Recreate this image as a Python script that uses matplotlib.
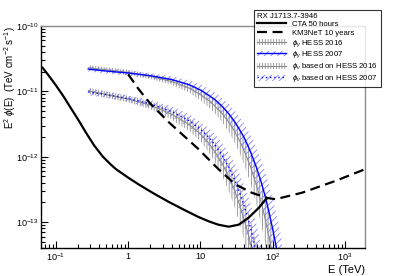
import matplotlib
matplotlib.use("Agg")
import matplotlib.pyplot as plt
import numpy as np
from matplotlib.lines import Line2D
from matplotlib.patches import Patch
from matplotlib.ticker import FixedLocator, FixedFormatter, NullFormatter, LogLocator

plt.rcParams["font.family"] = ["Liberation Sans", "DejaVu Sans"]
plt.rcParams["mathtext.fontset"] = "custom"
plt.rcParams["mathtext.rm"] = "Liberation Sans"
plt.rcParams["mathtext.it"] = "Liberation Sans:italic"
plt.rcParams["mathtext.bf"] = "Liberation Sans:bold"
plt.rcParams["hatch.linewidth"] = 0.6

# CTA 50 hours sensitivity: log10 E (TeV), log10 E^2 phi (TeV cm-2 s-1)
cta_loge = [-1.185, -1.1, -1.0, -0.9, -0.815, -0.7, -0.58, -0.47, -0.35, -0.25, -0.17, 0.0,
            0.14, 0.35, 0.56, 0.77, 0.97, 1.12, 1.25, 1.39, 1.53, 1.67, 1.81, 1.92]
cta_logf = [-10.64, -10.76, -10.91, -11.07, -11.22, -11.42, -11.64, -11.83, -12.00, -12.11,
            -12.19, -12.32, -12.42, -12.56, -12.69, -12.81, -12.92, -12.99, -13.04, -13.07,
            -13.04, -12.93, -12.78, -12.63]

# KM3NeT 10 years
km3_loge = [0.0, 0.14, 0.30, 0.56, 0.97, 1.25, 1.48, 1.71, 1.92, 2.04, 2.41, 2.87, 3.26]
km3_logf = [-10.74, -10.96, -11.18, -11.47, -11.88, -12.19, -12.42, -12.55, -12.63, -12.65,
            -12.55, -12.37, -12.20]

# HESS bands, common energy grid (TeV)
band_e = [0.28, 0.5, 1, 2, 4, 7, 10, 13, 16, 20, 25, 30, 35, 40, 45, 50, 60, 70, 80, 90,
          100, 110, 120, 135]

# log10 E^2 phi, centre lines
gam16_c = [-10.64, -10.67, -10.71, -10.77, -10.85, -10.95, -11.05, -11.14, -11.23, -11.34,
           -11.48, -11.62, -11.76, -11.90, -12.04, -12.17, -12.44, -12.71, -12.98, -13.25,
           -13.52, -13.78, -14.05, -14.45]
gam07_c = [-10.66, -10.69, -10.72, -10.76, -10.82, -10.90, -10.98, -11.06, -11.13, -11.23,
           -11.35, -11.47, -11.59, -11.70, -11.82, -11.94, -12.17, -12.40, -12.63, -12.87,
           -13.10, -13.33, -13.56, -13.90]
nu16_c = [-10.99, -11.05, -11.12, -11.21, -11.35, -11.51, -11.65, -11.79, -11.93, -12.10,
          -12.32, -12.53, -12.74, -12.95, -13.15, -13.36, -13.77, -14.2, -14.6, -15.0,
          -15.4, -15.8, -16.2, -16.8]
nu07_c = [-11.01, -11.05, -11.11, -11.19, -11.31, -11.45, -11.58, -11.70, -11.82, -11.98,
          -12.17, -12.36, -12.55, -12.74, -12.92, -13.11, -13.48, -13.85, -14.2, -14.6,
          -15.0, -15.4, -15.8, -16.4]

# half widths of the bands (dex)
err_gam = [0.04, 0.04, 0.04, 0.04, 0.05, 0.07, 0.09, 0.10, 0.11, 0.13, 0.15, 0.17, 0.19,
           0.21, 0.23, 0.26, 0.30, 0.34, 0.38, 0.42, 0.46, 0.50, 0.55, 0.62]
err_nu = [0.05, 0.05, 0.05, 0.06, 0.08, 0.10, 0.11, 0.14, 0.16, 0.19, 0.22, 0.25, 0.28,
          0.31, 0.34, 0.37, 0.44, 0.50, 0.56, 0.62, 0.68, 0.74, 0.80, 0.90]

x_ticks = [0.1, 1, 10, 100, 1000]
x_tick_labels = ["$10^{-1}$", "1", "10", "$10^{2}$", "$10^{3}$"]
y_ticks = [1e-13, 1e-12, 1e-11, 1e-10]
y_tick_labels = ["$10^{-13}$", "$10^{-12}$", "$10^{-11}$", "$10^{-10}$"]

gray = "#8c8c8c"
hblue = "#8080ff"

fig = plt.figure(figsize=(4.07, 2.76), dpi=100)
ax = fig.add_axes([0.1007, 0.101, 0.796, 0.805])


def band(c, err, col, hatch):
    c = np.array(c)
    e = np.array(err)
    ax.fill_between(band_e, 10 ** (c - e), 10 ** (c + e), facecolor="none",
                    edgecolor=col, hatch=hatch, linewidth=0)


band(gam16_c, err_gam, gray, "||||||")
band(nu16_c, err_nu, gray, "||||||")
band(gam07_c, err_gam, hblue, "/////")
band(nu07_c, err_nu, hblue, "/////")

ax.plot(band_e, 10 ** np.array(gam16_c), color=gray, lw=0.8)
ax.plot(band_e, 10 ** np.array(nu16_c), color=gray, lw=0.8)
ax.plot(band_e, 10 ** np.array(gam07_c), color="blue", lw=1.0)
ax.plot(band_e, 10 ** np.array(nu07_c), color="blue", lw=1.0, ls=(0, (1, 2)))

ax.plot(10 ** np.array(cta_loge), 10 ** np.array(cta_logf), color="black", lw=1.6)
ax.plot(10 ** np.array(km3_loge), 10 ** np.array(km3_logf), color="black", lw=1.6,
        ls=(0, (4.5, 2.5)))

ax.set_xscale("log")
ax.set_yscale("log")
ax.set_xlim(0.062, 1900)
ax.set_ylim(4e-14, 1e-10)

ax.xaxis.set_major_locator(FixedLocator(x_ticks))
ax.xaxis.set_major_formatter(FixedFormatter(x_tick_labels))
ax.xaxis.set_minor_locator(LogLocator(base=10, subs=np.arange(2, 10)))
ax.xaxis.set_minor_formatter(NullFormatter())
ax.yaxis.set_major_locator(FixedLocator(y_ticks))
ax.yaxis.set_major_formatter(FixedFormatter(y_tick_labels))
ax.yaxis.set_minor_locator(LogLocator(base=10, subs=np.arange(2, 10)))
ax.yaxis.set_minor_formatter(NullFormatter())

ax.tick_params(which="both", direction="in", top=False, right=False, labelsize=6.6, width=0.8)
ax.tick_params(which="major", length=5, pad=2.5)
ax.tick_params(axis="y", which="major", pad=1.5)
ax.tick_params(which="minor", length=3)
for s in ["top", "right"]:
    ax.spines[s].set_color(gray)
    ax.spines[s].set_linewidth(1.0)
for s in ["left", "bottom"]:
    ax.spines[s].set_linewidth(1.0)

ax.set_xlabel("E (TeV)", loc="right", fontsize=8, labelpad=1)
ax.set_ylabel(r"E$^{2}$ $\phi$(E)  (TeV cm$^{-2}$ s$^{-1}$)", loc="top", fontsize=7)
ax.yaxis.set_label_coords(-0.071, 1.0)

handles = [
    Line2D([], [], color="black", lw=1.6),
    Line2D([], [], color="black", lw=1.6, ls=(0, (4.5, 2.5))),
    (Patch(facecolor="none", edgecolor=gray, hatch="||||||", lw=0), Line2D([], [], color=gray, lw=0.8)),
    (Patch(facecolor="none", edgecolor=hblue, hatch="/////", lw=0), Line2D([], [], color="blue", lw=1.0)),
    (Patch(facecolor="none", edgecolor=gray, hatch="||||||", lw=0), Line2D([], [], color=gray, lw=0.8)),
    (Patch(facecolor="none", edgecolor=hblue, hatch="/////", lw=0), Line2D([], [], color="blue", lw=1.0, ls=(0, (1, 2)))),
]
labels = ["CTA 50 hours", "KM3NeT 10 years",
          r"$\phi_{\gamma}$ HESS 2016", r"$\phi_{\gamma}$ HESS 2007",
          r"$\phi_{\nu}$ based on HESS 2016", r"$\phi_{\nu}$ based on HESS 2007"]
leg = fig.legend(handles, labels, title="RX J1713.7-3946", loc="upper left",
                 bbox_to_anchor=(254 / 407, 1 - 10 / 276), fontsize=5.6, title_fontsize=5.6,
                 frameon=True, fancybox=False, borderpad=0.35, labelspacing=0.12,
                 handlelength=3.7, handleheight=0.8, handletextpad=0.9, borderaxespad=0,
                 alignment="left")
leg.get_frame().set_edgecolor("black")
leg.get_frame().set_linewidth(0.8)

fig.savefig("out.png", dpi=100)
